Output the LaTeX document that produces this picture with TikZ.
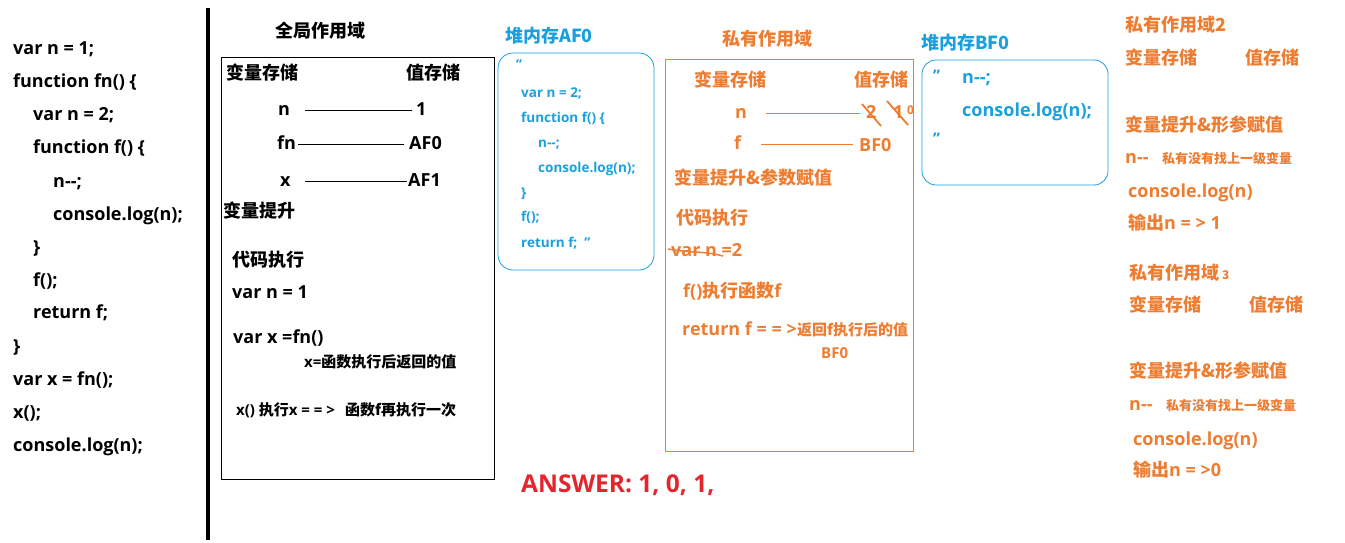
\documentclass[tikz,border=0pt]{standalone}
\usepackage{fontspec}
\setmainfont{Open Sans}[Ligatures=ResetAll]
\newfontfamily\cjk{Noto Sans CJK SC}
\newcommand\fsize[1]{\fontsize{#1}{#1}\selectfont}
\definecolor{heapblue}{HTML}{1BA0DE}
\definecolor{scopeorange}{HTML}{EE7D31}
\definecolor{answerred}{HTML}{E3262E}
\begin{document}
\begin{tikzpicture}[x=1pt, y=-1pt,
  txt/.style={anchor=west, inner sep=0pt, text height=1em, text depth=0pt},
  big/.style={txt, font=\fsize{18}\bfseries},
  cn/.style={txt, font=\fsize{18}\bfseries\cjk},
  cnsmall/.style={txt, font=\fsize{15}\bfseries\cjk},
  cntiny/.style={txt, font=\fsize{13}\bfseries\cjk},
  heap/.style={txt, font=\fsize{13.5}\bfseries, text=heapblue},
  link/.style={line width=0.8pt}]
  \useasboundingbox (0,0) rectangle (1345,542);
  \fill[white] (0,0) rectangle (1345,542);

  % source code
  \node[big] (c1) at (13,49) {var n = 1;};
  \node[big] (c2) at (13,82) {function fn() \{};
  \node[big] (c3) at (33,115) {var n = 2;};
  \node[big] (c4) at (33,148) {function f() \{};
  \node[big] (c5) at (53,182) {n-{}-;};
  \node[big] (c6) at (53,215) {console.log(n);};
  \node[big] (c7) at (33,248) {\}};
  \node[big] (c8) at (33,281) {f();};
  \node[big] (c9) at (33,313) {return f;};
  \node[big] (c10) at (13,347) {\}};
  \node[big] (c11) at (13,380) {var x = fn();};
  \node[big] (c12) at (13,413) {x();};
  \node[big] (c13) at (13,446) {console.log(n);};
  \draw[line width=4pt] (208,8) -- (208,540);

  % global scope
  \node[cn] (gtitle) at (275,32) {全局作用域};
  \draw[line width=0.8pt] (221,57) rectangle (494,479);
  \node[cn] (gvar) at (226,74) {变量存储};
  \node[cn] (gval) at (406,74) {值存储};
  \node[big] (gn) at (278,110) {n};
  \node[big] (g1) at (416,110) {1};
  \node[big] (gfn) at (277,144) {fn};
  \node[big] (gaf0) at (409,144) {AF0};
  \node[big] (gx) at (280,181) {x};
  \node[big] (gaf1) at (408,181) {AF1};
  \draw[link, shorten <=15pt, shorten >=4pt] (gn) -- (g1);
  \draw[link, shorten <=2pt, shorten >=5pt] (gfn) -- (gaf0);
  \draw[link, shorten <=14pt, shorten >=1pt] (gx) -- (gaf1);
  \node[cn] (ghoist) at (223,212) {变量提升};
  \node[cn] (grun) at (232,261) {代码执行};
  \node[big] (grun1) at (232,293) {var n = 1};
  \node[big] (grun2) at (233,338) {var x =fn()};
  \node[cnsmall] (grun2note) at (304,362) {\fontspec{Open Sans}x=\cjk 函数执行后返回的值};
  \node[txt, font=\fsize{15}\bfseries] (grun3) at (236,410) {x() {\cjk 执行}x = = >};
  \node[cnsmall] (grun3note) at (345,410) {函数f再执行一次};

  % heap AF0
  \node[cn, text=heapblue] (af0title) at (505,37) {堆内存AF0};
  \draw[heapblue, line width=0.8pt, rounded corners=15pt] (498,53) rectangle (654,270);
  \node[heap] (af0q) at (516,64) {’’};
  \node[heap] (af0l1) at (521,92) {var n = 2;};
  \node[heap] (af0l2) at (521,117) {function f() \{};
  \node[heap] (af0l3) at (538,142) {n-{}-;};
  \node[heap] (af0l4) at (538,167) {console.log(n);};
  \node[heap] (af0l5) at (521,192) {\}};
  \node[heap] (af0l6) at (521,216) {f();};
  \node[heap] (af0l7) at (521,242) {return f;~~’’};

  % private scope
  \begin{scope}[every node/.append style={text=scopeorange}]
  \node[cn] (ptitle) at (722,40) {私有作用域};
  \draw[scopeorange, line width=0.8pt] (665,59) rectangle (913,451);
  \node[cn] (pvar) at (694,81) {变量存储};
  \node[cn] (pval) at (854,81) {值存储};
  \node[big] (pn) at (735,113) {n};
  \node[big] (p2) at (866,113) {2};
  \node[big] (p1) at (893,113) {1};
  \node[txt, font=\fsize{12}\bfseries] (p0) at (907,109) {0};
  \node[big] (pf) at (734,144) {f};
  \node[big] (pbf0) at (859,146) {BF0};
  \draw[scopeorange, link, shorten <=19pt, shorten >=6pt] (pn) -- (p2.west |- pn);
  \draw[scopeorange, link, shorten <=20pt, shorten >=6pt] (pf) -- (pbf0.west |- pf);
  \draw[scopeorange, line width=1.8pt] (862,104) -- (881,126);
  \draw[scopeorange, line width=1.8pt] (887,101) -- (908,125);
  \node[cn] (phoist) at (674,179) {变量提升\&参数赋值};
  \node[cn] (prun) at (676,219) {代码执行};
  \node[big] (prun1) at (671,251) {var n =2};
  \draw[scopeorange, line width=1.5pt] (668,249) .. controls (690,253) and (705,251) .. (723,256);
  \node[txt, font=\fsize{18}\bfseries] (prun2) at (683,292) {f(){\cjk 执行函数}f};
  \node[big] (prun3) at (682,330) {return f = = >};
  \node[cnsmall] (prun3note) at (797,330) {返回f执行后的值};
  \node[txt, font=\fsize{15}\bfseries] (prun3val) at (821,353) {BF0};
  \end{scope}

  % heap BF0
  \node[cn, text=heapblue] (bf0title) at (921,44) {堆内存BF0};
  \draw[heapblue, line width=0.8pt, rounded corners=14pt] (922,60) rectangle (1108,185);
  \node[heap, font=\fsize{16}\bfseries] (bf0q1) at (933,76) {’’};
  \node[big, text=heapblue] (bf0l1) at (962,78) {n-{}-;};
  \node[big, text=heapblue] (bf0l2) at (962,111) {console.log(n);};
  \node[heap, font=\fsize{16}\bfseries] (bf0q2) at (933,139) {’’};

  % private scopes 2 and 3
  \begin{scope}[every node/.append style={text=scopeorange}]
  \node[cn] (s2title) at (1125,26) {私有作用域2};
  \node[cn] (s2var) at (1125,59) {变量存储};
  \node[cn] (s2val) at (1245,59) {值存储};
  \node[cn] (s2hoist) at (1125,126) {变量提升\&形参赋值};
  \node[big] (s2n) at (1125,158) {n-{}-};
  \node[cntiny] (s2note) at (1162,158) {私有没有找上一级变量};
  \node[big] (s2log) at (1128,192) {console.log(n)};
  \node[big] (s2out) at (1128,224) {{\cjk 输出}n = > 1};
  \node[cn] (s3title) at (1129,274) {私有作用域\,{\fsize{12}3}};
  \node[cn] (s3var) at (1129,306) {变量存储};
  \node[cn] (s3val) at (1249,306) {值存储};
  \node[cn] (s3hoist) at (1129,372) {变量提升\&形参赋值};
  \node[big] (s3n) at (1129,405) {n-{}-};
  \node[cntiny] (s3note) at (1166,405) {私有没有找上一级变量};
  \node[big] (s3log) at (1133,440) {console.log(n)};
  \node[big] (s3out) at (1133,471) {{\cjk 输出}n = >0};
  \end{scope}

  \node[txt, font=\fsize{24.5}\bfseries, text=answerred] (answer) at (521,487) {ANSWER: 1, 0, 1,};
\end{tikzpicture}
\end{document}
